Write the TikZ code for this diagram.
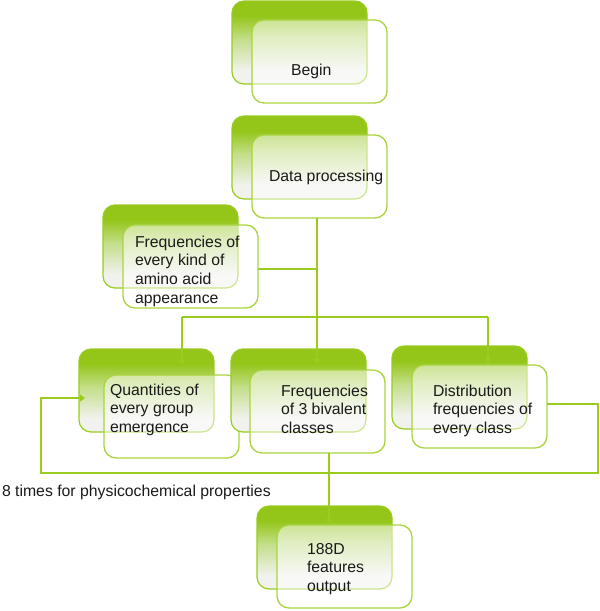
\documentclass[tikz,border=0pt]{standalone}
\usepackage{fontspec}
\setmainfont{Liberation Sans}
\usetikzlibrary{arrows.meta}
\definecolor{gTop}{HTML}{94C61A}
\definecolor{gMid}{HTML}{C4DE8A}
\definecolor{gBot}{HTML}{F1F2EE}
\definecolor{gLine}{HTML}{99CC1F}
\definecolor{gEdge}{HTML}{A9D43F}
\definecolor{txt}{HTML}{1A1A1A}
\pgfdeclareverticalshading{greenfade}{100bp}{color(0bp)=(gBot); color(25bp)=(gBot); color(33bp)=(gBot); color(52bp)=(gMid); color(66bp)=(gTop); color(100bp)=(gTop)}
\newcommand{\lines}[1]{\begin{tabular}[t]{@{}l@{}}#1\end{tabular}}
\begin{document}
\begin{tikzpicture}[x=1pt,y=-1pt,
  backbox/.style={anchor=north west, minimum width=135pt, minimum height=83pt, inner sep=0pt, outer sep=0pt, rounded corners=12pt, draw=gLine, line width=1.2pt, shading=greenfade},
  frontbox/.style={anchor=north west, minimum width=135pt, minimum height=83pt, inner sep=0pt, outer sep=0pt, rounded corners=12pt, draw=gEdge, line width=1.3pt, fill=white, fill opacity=0.5, draw opacity=1},
  lbl/.style={anchor=base west, inner sep=0pt, outer sep=0pt, font=\fontsize{15.8}{18.7}\selectfont, text=txt},
  conn/.style={draw=gLine, line width=1.8pt},
  arr/.style={conn, -{Triangle[length=5pt,width=7pt]}}]
\useasboundingbox (0,0) rectangle (600,611);

% Begin
\node[backbox] (bgb) at (232,1) {};
\node[frontbox] (bg) at (252,20) {};
\node[lbl] (tbg) at (291,75) {Begin};

% Data processing
\node[backbox] (dpb) at (232,116) {};
\node[frontbox] (dp) at (252,135) {};
\node[lbl] (tdp) at (269,181) {Data processing};

% Frequencies of every kind
\node[backbox] (frb) at (103,205) {};
\node[frontbox] (fr) at (123,225) {};
\node[lbl] (tfr) at (135,247) {\lines{Frequencies of\\every kind of\\amino acid\\appearance}};

% Quantities
\node[backbox] (qub) at (79,349) {};
\node[frontbox] (qu) at (104,375) {};
\node[lbl] (tqu) at (110,395) {\lines{Quantities of\\every group\\emergence}};

% Frequencies of 3 bivalent
\node[backbox] (fqb) at (231,349) {};
\node[frontbox] (fq) at (250,370) {};
\node[lbl] (tfq) at (281,396) {\lines{Frequencies\\of 3 bivalent\\classes}};

% Distribution
\node[backbox] (dsb) at (392,346) {};
\node[frontbox] (ds) at (412,365) {};
\node[lbl] (tds) at (433,396) {\lines{Distribution\\frequencies of\\every class}};

% 188D
\node[backbox] (opb) at (257,506) {};
\node[frontbox] (op) at (277,525) {};
\node[lbl] (top) at (307,554) {\lines{188D\\features\\output}};

% loop label
\node[lbl] (tloop) at (2,496) {8 times for physicochemical properties};

% connectors
\coordinate (jf) at (317,269);
\coordinate (tfqa) at (317,364);
\coordinate (hl) at (182,317);
\coordinate (hr) at (488,317);
\coordinate (tqua) at (182,365);
\coordinate (tdsa) at (488,363);
\coordinate (topa) at (329,524);
\coordinate (lp1) at (598,404);
\coordinate (lp2) at (598,473);
\coordinate (lp3) at (41,473);
\coordinate (lp4) at (41,398);
\coordinate (tqul) at (85,398);

\draw[arr] (dp.south -| tfqa) -- (tfqa);
\draw[conn] (fr.east |- jf) -- (jf);
\draw[conn] (hl) -- (hr);
\draw[arr] (hl) -- (tqua);
\draw[arr] (hr) -- (tdsa);
\draw[arr] (fq.south -| topa) -- (topa);
\draw[arr] (ds.east |- lp1) -- (lp1) -- (lp2) -- (lp3) -- (lp4) -- (tqul);
\end{tikzpicture}
\end{document}
